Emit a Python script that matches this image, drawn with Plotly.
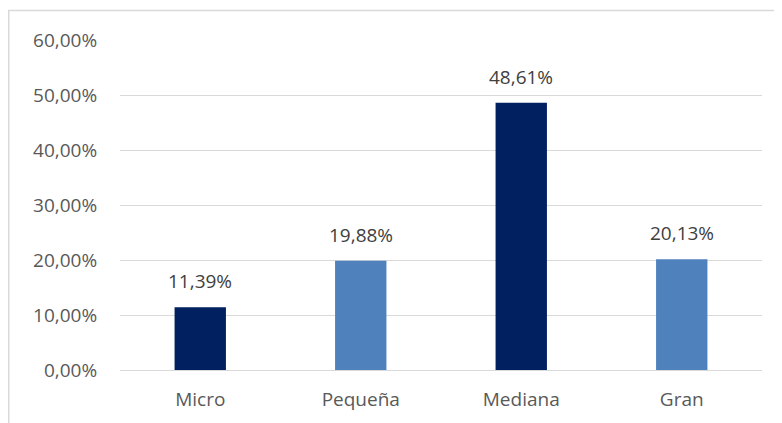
import plotly.graph_objects as go

categories = ["Micro", "Pequeña", "Mediana", "Gran"]
values = [0.1139, 0.1988, 0.4861, 0.2013]
bar_colors = ["#002060", "#4F81BD", "#002060", "#4F81BD"]
tick_vals = [0, 0.1, 0.2, 0.3, 0.4, 0.5, 0.6]

FONT = "Open Sans"
TXT = "#595959"
FS = 19

fig = go.Figure()
fig.add_trace(go.Bar(
    x=categories, y=values,
    marker=dict(color=bar_colors, line=dict(width=0)),
    width=0.32,
    hoverinfo="skip",
))

for c, v in zip(categories, values):
    fig.add_annotation(
        x=c, y=v, text=f"{v*100:.2f}%".replace(".", ","),
        showarrow=False, yanchor="bottom", yshift=11,
        font=dict(family=FONT, size=FS, color="#404040"),
    )

# page is offset by 8px body margin: figure coords = page coords - 8
L, R, T, B = 112, 28, 32, 61
PW = 782 - L - R
PH = 423 - T - B

fig.update_layout(
    width=782, height=423,
    margin=dict(l=L, r=R, t=T, b=B),
    paper_bgcolor="white", plot_bgcolor="white",
    separators=",.",
    showlegend=False,
    font=dict(family=FONT, size=FS, color=TXT),
    xaxis=dict(showline=False, showgrid=False, ticks="outside", ticklen=12,
               tickcolor="rgba(0,0,0,0)", tickfont=dict(size=FS, color=TXT)),
    yaxis=dict(range=[0, 0.6], tickvals=tick_vals, tickformat=".2%",
               showgrid=True, gridcolor="#d9d9d9", gridwidth=1,
               zeroline=True, zerolinecolor="#d9d9d9", zerolinewidth=1,
               ticks="outside", ticklen=18, tickcolor="rgba(0,0,0,0)",
               tickfont=dict(size=FS, color=TXT)),
    shapes=[dict(type="rect", xref="paper", yref="paper",
                 x0=(0.75 - L) / PW, x1=1.2, y0=-0.5, y1=(PH + T - 2.5) / PH,
                 line=dict(color="#d9d9d9", width=1.5), layer="below")],
)

fig.write_html("out.html")
